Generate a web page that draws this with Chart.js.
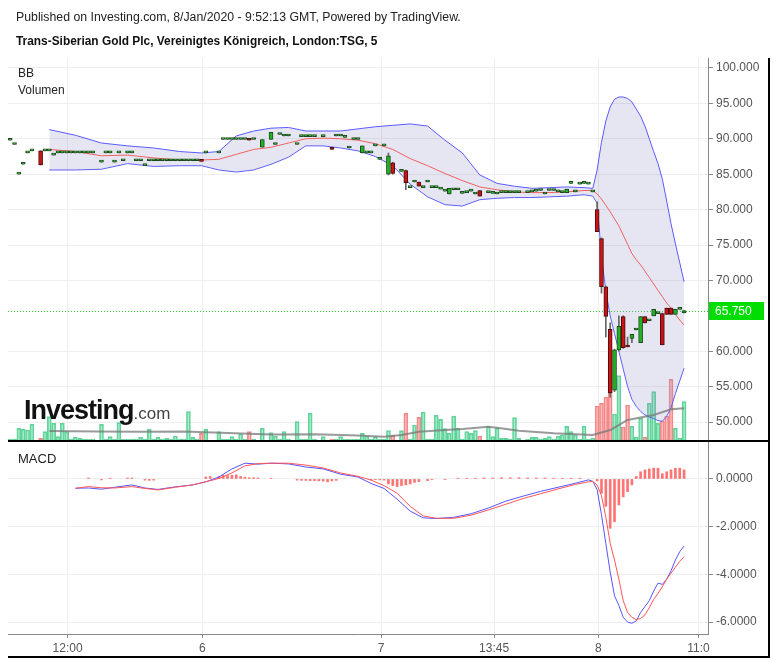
<!DOCTYPE html>
<html>
<head>
<meta charset="utf-8">
<script src="https://cdn.jsdelivr.net/npm/chart.js@4.4.0/dist/chart.umd.min.js"></script>
<style>
  body { margin: 0; background: #fff; }
  #wrap { position: relative; width: 777px; height: 662px; overflow: hidden; font-family: "Liberation Sans", Arial, sans-serif; }
  canvas { position: absolute; left: 0; }
  .txt { position: absolute; white-space: nowrap; color: #222; }
  .rule { position: absolute; background: #000; }
</style>
</head>
<body>
<div id="wrap">
  <canvas id="main" width="777" height="441" style="top:0"></canvas>
  <canvas id="macd" width="777" height="221" style="top:441px"></canvas>
  <div class="txt" style="left:16px;top:10px;font-size:12.3px">Published on Investing.com, 8/Jan/2020 - 9:52:13 GMT, Powered by TradingView.</div>
  <div class="txt" style="left:16px;top:34px;font-size:11.9px;font-weight:bold;color:#111">Trans-Siberian Gold Plc, Vereinigtes Königreich, London:TSG, 5</div>
  <div class="txt" style="left:18px;top:66px;font-size:12px">BB</div>
  <div class="txt" style="left:18px;top:83px;font-size:12px">Volumen</div>
  <div class="txt" style="left:18px;top:451px;font-size:13px">MACD</div>
  <div class="txt" style="left:24px;top:395px"><span style="font-weight:bold;font-size:27px;letter-spacing:-1px;color:#111">Investing</span><span style="font-size:17px;color:#444">.com</span></div>
  <div class="rule" style="left:8px;top:440px;width:762px;height:2px"></div>
  <div class="rule" style="left:8px;top:656px;width:762px;height:2px"></div>
  <div class="rule" style="left:768px;top:58px;width:2px;height:600px"></div>
</div>
<script>
// 5-minute candles, x = bar slot (TradingView skips empty bars)
const candleSlot = [0,1,2,3,4,5,7,8,9,10,
  11,12,13,14,15,16,17,18,19,21,
  22,23,24,25,26,27,28,29,30,31,
  32,33,34,35,36,37,38,39,40,41,
  42,43,44,45,48,49,50,51,52,53,
  54,55,56,58,60,61,62,63,64,66,
  67,68,69,70,72,74,75,76,77,78,
  79,80,81,82,83,84,85,86,87,88,
  90,91,92,93,94,95,96,97,98,99,
  100,101,102,103,104,105,106,107,108,110,
  111,112,113,114,115,116,117,119,120,121,
  122,123,124,125,126,127,128,129,130,131,
  132,133,134,135,136,137,138,139,140,141,
  142,143,144,145,146,147,148,149,150,151,
  152,153,154,155];
const candleOpen = [89.8,89.2,85.0,86.4,88.0,88.3,88.3,88.3,88.3,87.7,
  88.0,88.0,88.0,88.0,88.0,88.0,88.0,88.0,88.0,86.7,
  88.0,88.0,86.7,88.0,86.9,88.0,88.0,86.9,86.9,86.2,
  86.9,86.9,86.9,86.9,86.9,86.9,86.9,86.9,86.9,86.9,
  86.9,86.9,86.95,88.0,88.0,89.9,89.9,89.9,89.9,89.9,
  89.9,90.0,89.9,88.8,89.9,89.2,90.6,90.4,90.4,89.2,
  90.3,90.3,90.3,90.3,90.3,88.8,90.4,90.4,90.2,88.7,
  89.9,89.9,88.0,88.0,88.0,89.0,87.1,89.0,85.0,86.6,
  85.4,85.5,83.1,83.9,83.9,83.1,83.9,83.1,83.1,82.9,
  82.6,82.2,82.8,82.8,82.3,82.4,82.6,82.2,82.7,82.4,
  82.3,82.2,82.4,82.4,82.4,82.4,82.4,82.4,82.5,82.6,
  82.7,82.2,82.7,82.7,82.5,82.4,82.4,83.7,82.5,83.6,
  83.7,83.6,82.5,80.0,75.9,69.1,63.1,54.5,60.2,64.9,
  60.8,61.8,63.0,61.2,64.9,64.3,65.0,65.3,65.3,66.1,
  66.1,65.2,65.9,65.4];
const candleHigh = [89.8,89.2,85.0,86.4,88.0,88.3,88.3,88.3,88.3,87.7,
  88.0,88.0,88.0,88.0,88.0,88.0,88.0,88.0,88.0,86.7,
  88.0,88.0,86.7,88.0,86.9,88.0,88.0,86.9,86.9,86.2,
  86.9,86.9,86.9,86.9,86.9,86.9,86.9,86.9,86.9,86.9,
  86.9,86.9,86.95,88.0,88.0,89.9,89.9,89.9,89.9,89.9,
  89.9,90.0,89.9,89.9,90.9,89.2,90.6,90.4,90.4,89.2,
  90.3,90.3,90.3,90.3,90.3,88.8,90.4,90.4,90.2,88.7,
  89.9,89.9,89.0,88.0,88.0,89.0,87.1,89.0,88.0,86.7,
  85.4,85.6,83.1,83.9,83.9,83.1,83.9,83.1,83.1,82.9,
  82.6,83.0,82.8,82.8,82.3,82.4,82.6,82.2,82.7,82.4,
  82.3,82.2,82.4,82.4,82.4,82.4,82.4,82.4,82.5,82.6,
  82.7,82.2,82.7,82.7,82.5,82.4,82.9,83.7,82.5,83.6,
  83.7,83.6,82.5,81.1,76.0,69.2,64.0,60.3,65.0,65.0,
  62.0,62.4,63.0,64.9,64.9,64.3,65.9,65.3,65.4,66.1,
  66.1,65.9,65.9,65.75];
const candleLow = [89.8,89.2,85.0,86.4,88.0,88.3,86.3,88.3,88.3,87.7,
  88.0,88.0,88.0,88.0,88.0,88.0,88.0,88.0,88.0,86.7,
  88.0,88.0,86.7,88.0,86.9,88.0,88.0,86.9,86.9,86.2,
  86.9,86.9,86.9,86.9,86.9,86.9,86.9,86.9,86.9,86.9,
  86.9,86.9,86.8,88.0,88.0,89.9,89.9,89.9,89.9,89.9,
  89.9,89.8,89.9,88.8,89.9,89.2,90.6,90.4,90.4,89.2,
  90.3,90.3,90.3,90.3,90.3,88.5,90.4,90.4,90.2,88.7,
  89.9,89.9,88.0,88.0,88.0,89.0,87.1,89.0,84.9,85.0,
  85.4,82.8,83.1,83.9,83.3,83.1,83.9,83.1,83.1,82.9,
  82.6,82.2,82.8,82.8,82.3,82.4,82.6,82.2,81.9,82.4,
  82.3,82.2,82.4,82.4,82.4,82.4,82.4,82.4,82.5,82.6,
  82.7,82.2,82.7,82.7,82.5,82.4,82.4,83.7,82.5,83.6,
  83.7,83.6,82.5,76.9,68.2,62.0,53.5,54.3,60.0,60.4,
  60.6,61.2,63.0,61.2,64.0,64.3,65.0,65.3,60.9,65.2,
  65.2,65.2,65.9,65.4];
const candleClose = [89.8,89.2,85.0,86.4,88.0,88.3,86.3,88.3,88.3,87.7,
  88.0,88.0,88.0,88.0,88.0,88.0,88.0,88.0,88.0,86.7,
  88.0,88.0,86.7,88.0,86.9,88.0,88.0,86.9,86.9,86.2,
  86.9,86.9,86.9,86.9,86.9,86.9,86.9,86.9,86.9,86.9,
  86.9,86.9,86.8,88.0,88.0,89.9,89.9,89.9,89.9,89.9,
  89.9,89.8,89.9,89.9,90.9,89.2,90.6,90.4,90.4,89.2,
  90.3,90.3,90.3,90.3,90.3,88.5,90.4,90.4,90.2,88.7,
  89.9,89.9,89.0,88.0,88.0,89.0,87.1,89.0,87.6,85.1,
  85.4,83.8,83.1,83.9,83.3,83.1,83.9,83.1,83.1,82.9,
  82.6,83.0,82.8,82.8,82.3,82.4,82.6,82.2,81.9,82.4,
  82.3,82.2,82.4,82.4,82.4,82.4,82.4,82.4,82.5,82.6,
  82.7,82.2,82.7,82.7,82.5,82.4,82.9,83.7,82.5,83.6,
  83.7,83.6,82.5,76.9,69.1,64.9,54.1,60.2,63.5,60.5,
  60.6,62.4,63.0,64.9,64.0,64.3,65.9,65.3,60.9,65.2,
  65.2,65.9,65.9,65.75];
// volume, thousands of shares
const volume = [2,2,12.7,11.7,11,16.7,2.7,9.3,24.3,17.7,
  4.3,17.7,9.3,2,3.7,2.7,2,1.7,2,16.7,
  2,4.3,2,18.3,2,1.7,2,2,3.7,2,
  11.7,2,3.7,2,2.7,2,5,2,2,29.3,
  3.7,2,7.7,11.7,9.3,2,2,4.3,2,7,
  2,9.3,2,12.7,8.3,5,2,9.3,2,19.3,
  2,2,27.7,2,4.3,1.7,2,4.3,2,2,
  1.7,2,7.7,5,2,4.3,2,2,10.3,5.7,
  10.3,27.7,2,16,23.7,29,2,2,25.7,21.7,
  12.3,7.7,25,12.7,2,9.3,7.7,10.3,5,14.3,
  4.3,12.7,2.7,2.7,2,23.3,2.7,2,3.7,3.7,
  2,2.7,4.3,2,5,6,14.7,9.3,6,2,
  15,2,3,35,37.7,44,51,27,65.3,14,
  36,14.7,4,22.7,4,37.7,49.3,17.7,20,25,
  61.7,12.7,3,39.3];

// Bollinger bands (20, 2)
const bandSlot = [9,15,21,27,33,39,44,48,52,56,60,64,68,72,76,80,84,88,92,96,100,104,108,112,116,120,124,128,132,134,
  135,136,137,138,139,140,141,142,143,144,145,146,147,148,149,150,151,152,153,154,155];
const bbUpper = [91.3,90.5,89.4,89.0,88.7,88.2,88.0,88.2,90.4,91.1,91.5,91.6,91.1,91.1,91.1,91.4,91.7,91.9,92.1,91.8,
  89.8,88.0,84.9,83.7,83.3,83.0,83.1,83.2,83.1,83.0,85.6,89.5,92.5,94.5,95.6,95.9,95.9,95.7,95.2,94.2,
  93.2,91.8,90.0,88.2,86.5,84.3,81.2,78.0,75.2,72.5,69.8];
const bbMiddle = [88.5,88.2,87.6,87.7,87.3,87.0,87.0,87.1,87.8,88.5,88.8,89.4,90.0,90.1,90.0,89.8,89.3,88.5,87.2,86.2,
  85.1,84.1,83.2,82.8,82.5,82.4,82.4,82.5,82.7,82.7,82.2,81.5,80.6,79.7,78.7,77.7,76.4,75.1,73.8,72.9,
  72.2,71.3,70.4,69.5,68.6,67.7,66.8,66.1,65.2,64.4,63.7];
const bbLower = [85.6,85.6,85.7,86.5,86.1,86.2,86.2,85.6,85.3,85.6,86.4,87.4,89.0,89.0,88.7,88.3,87.5,86.2,83.6,81.8,
  80.7,80.5,81.4,81.6,81.7,81.7,81.8,81.9,82.1,81.9,80.9,73.5,68.5,65.0,62.5,60.0,57.5,55.0,53.2,52.2,
  51.5,51.0,50.7,50.5,50.2,50.1,50.8,52.0,54.0,55.8,57.6];

// volume moving average
const volMaSlot = [9,20,30,40,50,60,70,80,86,90,94,100,104,110,112,117,125,134,138,142,148,152,155];
const volMa = [10,9.5,9.3,9.5,8,6.5,6.7,5.5,4.3,6,9.3,11,12,14.3,13.3,10.3,7.7,6,11,21,26,31.7,32.7];

// MACD (12, 26, 9)
const macdSlot = [15,18,21,24,28,31,34,38,42,45,48,51,54,57,60,64,68,72,76,80,83,86,89,92,95,98,102,106,110,
  114,118,122,126,130,133,134,135,136,137,138,139,140,141,142,143,144,145,146,147,148,149,150,151,152,153,154,155];
const macdLine = [-0.39,-0.38,-0.43,-0.35,-0.25,-0.38,-0.44,-0.33,-0.25,-0.12,
  0.08,0.42,0.66,0.62,0.66,0.63,0.50,0.42,0.20,0.08,
  -0.19,-0.40,-0.85,-1.35,-1.63,-1.66,-1.61,-1.46,-1.22,
  -0.93,-0.72,-0.52,-0.35,-0.18,-0.04,-0.10,-0.45,-1.5,-2.7,
  -3.9,-4.9,-5.3,-5.8,-6.0,-6.05,-5.95,-5.6,-5.35,-5.1,
  -4.7,-4.37,-4.42,-4.2,-3.85,-3.4,-3.05,-2.81];
const signalLine = [-0.39,-0.32,-0.37,-0.38,-0.32,-0.40,-0.46,-0.35,-0.25,-0.12,
  0.02,0.25,0.55,0.64,0.66,0.66,0.58,0.46,0.25,0.11,
  -0.05,-0.28,-0.6,-1.15,-1.55,-1.65,-1.65,-1.52,-1.30,
  -1.06,-0.82,-0.62,-0.42,-0.23,-0.12,-0.11,-0.25,-0.7,-1.6,
  -2.7,-3.4,-4.2,-5.1,-5.6,-5.8,-5.9,-5.85,-5.7,-5.4,
  -5.05,-4.8,-4.52,-4.2,-3.95,-3.7,-3.45,-3.26];
const histSlot = [18,21,23,27,28,31,32,33,45,46,48,49,50,51,52,53,54,55,56,57,60,
  66,67,68,69,70,71,72,73,74,75,83,84,85,86,87,88,89,90,91,92,93,94,96,97,100,
  103,105,107,109,111,113,115,117,119,121,123,125,127,129,131,
  135,136,137,138,139,140,141,142,143,144,145,146,147,148,149,150,151,152,153,154,155];
const histValue = [0.04,-0.04,0.03,0.04,0.04,-0.05,-0.06,-0.05,0.08,0.10,0.10,0.15,0.14,0.15,0.17,0.10,0.07,0.05,0.05,0.04,0.03,
  -0.05,-0.06,-0.06,-0.07,-0.07,-0.08,-0.09,-0.12,-0.08,-0.06,-0.04,-0.03,-0.04,-0.05,-0.21,-0.28,-0.32,-0.28,-0.25,-0.21,-0.14,-0.11,-0.07,-0.03,-0.03,
  0.03,0.03,0.03,0.04,0.04,0.05,0.05,0.05,0.04,0.04,0.04,0.03,0.03,0.03,0.03,
  -0.08,-0.6,-1.15,-2.07,-1.79,-1.09,-0.75,-0.53,-0.25,0.1,0.3,0.38,0.42,0.45,0.45,0.22,0.3,0.38,0.45,0.45,0.38];

const xTickSlot = [13.2, 44.2, 85.3, 111.3, 135.3, 158.3];
const xTickLabel = ["12:00", "6", "7", "13:45", "8", "11:0"];
const priceTicks = [50, 55, 60, 70, 75, 80, 85, 90, 95, 100];
const macdTicks = [-6, -4, -2, 0];
const lastPrice = 65.75;

Chart.defaults.font.family = '"Liberation Sans", Arial, sans-serif';
Chart.defaults.font.size = 12;
Chart.defaults.color = "#555";

const pts = (xs, ys) => xs.map((x, i) => ({ x: x, y: ys[i] }));
const up = candleClose.map((c, i) => c >= candleOpen[i]);
const GRID = "#eeeeee";

const xBase = {
  type: "linear",
  min: -0.5,
  max: 160.5,
  offset: false,
  afterBuildTicks: (s) => { s.ticks = xTickSlot.map((v) => ({ value: v })); },
};
// right price axis: fixed width, no extra label padding above/below the plot
const fitRight = (s) => {
  s.width = 69;
  s.paddingTop = 0;
  s.paddingBottom = 0;
};

const lastPriceTag = {
  id: "lastPriceTag",
  beforeDatasetsDraw(chart) {
    const { ctx, chartArea, scales } = chart;
    const py = Math.round(scales.y.getPixelForValue(lastPrice)) + 0.5;
    ctx.save();
    ctx.strokeStyle = "#2ccc2c";
    ctx.setLineDash([1, 2]);
    ctx.beginPath();
    ctx.moveTo(chartArea.left, py);
    ctx.lineTo(chartArea.right, py);
    ctx.stroke();
    ctx.restore();
  },
  afterDraw(chart) {
    const { ctx, chartArea, scales } = chart;
    const py = Math.round(scales.y.getPixelForValue(lastPrice));
    ctx.save();
    ctx.fillStyle = "#00dd00";
    ctx.fillRect(chartArea.right + 1, py - 9, 55, 18);
    ctx.fillStyle = "#fff";
    ctx.font = '12px "Liberation Sans", Arial';
    ctx.textBaseline = "middle";
    ctx.fillText(lastPrice.toFixed(3), chartArea.right + 7, py + 1);
    ctx.restore();
  },
};

new Chart(document.getElementById("main"), {
  type: "bar",
  data: {
    datasets: [
      {
        label: "Volumen",
        yAxisID: "yv",
        data: pts(candleSlot, volume),
        backgroundColor: up.map((u) => (u ? "rgba(90,215,155,0.5)" : "rgba(248,130,130,0.5)")),
        borderColor: up.map((u) => (u ? "rgba(60,200,130,0.8)" : "rgba(240,110,110,0.8)")),
        borderWidth: 1,
        borderSkipped: false,
        barThickness: 4,
        grouped: false,
        order: 10,
      },
      {
        type: "line",
        label: "BB upper",
        data: pts(bandSlot, bbUpper),
        borderColor: "#5a5aff",
        borderWidth: 1,
        pointRadius: 0,
        fill: "+1",
        backgroundColor: "rgba(140,140,200,0.22)",
        order: 8,
      },
      {
        type: "line",
        label: "BB lower",
        data: pts(bandSlot, bbLower),
        borderColor: "#5a5aff",
        borderWidth: 1,
        pointRadius: 0,
        fill: false,
        order: 8,
      },
      {
        type: "line",
        label: "Vol MA",
        yAxisID: "yv",
        data: pts(volMaSlot, volMa),
        borderColor: "rgba(120,120,120,0.75)",
        borderWidth: 2,
        pointRadius: 0,
        order: 7,
      },
      {
        type: "line",
        label: "BB basis",
        data: pts(bandSlot, bbMiddle),
        borderColor: "#f06060",
        borderWidth: 1,
        pointRadius: 0,
        order: 6,
      },
      {
        label: "wick",
        data: candleSlot.map((s, i) => ({ x: s, y: [candleLow[i], candleHigh[i]] })),
        backgroundColor: "#666",
        barThickness: 1,
        grouped: false,
        order: 2,
      },
      {
        label: "body",
        data: candleSlot.map((s, i) => ({ x: s, y: [candleOpen[i], candleClose[i]] })),
        backgroundColor: up.map((u) => (u ? "#22b322" : "#c81414")),
        borderColor: up.map((u) => (u ? "#1c4a1c" : "#4a0c0c")),
        borderWidth: 1,
        borderSkipped: false,
        barThickness: 4,
        minBarLength: 2,
        grouped: false,
        order: 1,
      },
    ],
  },
  options: {
    responsive: false,
    animation: false,
    devicePixelRatio: 1,
    layout: { padding: { left: 8, top: 58, right: 0, bottom: 0 } },
    plugins: { legend: { display: false }, tooltip: { enabled: false } },
    scales: {
      x: {
        ...xBase,
        ticks: { display: false },
        grid: { color: GRID, drawTicks: false, offset: false },
        border: { display: false },
        afterFit: (s) => { s.height = 0; },
      },
      y: {
        position: "right",
        min: 47.32,
        max: 101.41,
        afterBuildTicks: (s) => { s.ticks = priceTicks.map((v) => ({ value: v })); },
        ticks: { callback: (v) => v.toFixed(3), padding: 3 },
        grid: { color: GRID, tickColor: "#888", tickLength: 5 },
        border: { color: "#888" },
        afterFit: fitRight,
      },
      yv: { display: false, min: 0, max: 383 },
    },
  },
  plugins: [lastPriceTag],
});

new Chart(document.getElementById("macd"), {
  type: "bar",
  data: {
    datasets: [
      {
        label: "Histogram",
        data: pts(histSlot, histValue),
        backgroundColor: "rgba(255,90,90,0.85)",
        barThickness: 2,
        grouped: false,
        order: 3,
      },
      {
        type: "line",
        label: "MACD",
        data: pts(macdSlot, macdLine),
        borderColor: "#5555ff",
        borderWidth: 1,
        pointRadius: 0,
        order: 2,
      },
      {
        type: "line",
        label: "Signal",
        data: pts(macdSlot, signalLine),
        borderColor: "#ff5555",
        borderWidth: 1,
        pointRadius: 0,
        order: 1,
      },
    ],
  },
  options: {
    responsive: false,
    animation: false,
    devicePixelRatio: 1,
    layout: { padding: { left: 8, top: 0, right: 0, bottom: 0 } },
    plugins: { legend: { display: false }, tooltip: { enabled: false } },
    scales: {
      x: {
        ...xBase,
        ticks: { callback: (v, i) => xTickLabel[i], autoSkip: false, maxRotation: 0, padding: 3 },
        grid: { color: GRID, tickColor: "#888", tickLength: 4, offset: false },
        border: { color: "#888" },
        afterFit: (s) => { s.height = 28; },
      },
      y: {
        position: "right",
        min: -6.5,
        max: 1.59,
        afterBuildTicks: (s) => { s.ticks = macdTicks.map((v) => ({ value: v })); },
        ticks: { callback: (v) => v.toFixed(4), padding: 3 },
        grid: { color: GRID, tickColor: "#888", tickLength: 5 },
        border: { color: "#888" },
        afterFit: fitRight,
      },
    },
  },
});
</script>
</body>
</html>
